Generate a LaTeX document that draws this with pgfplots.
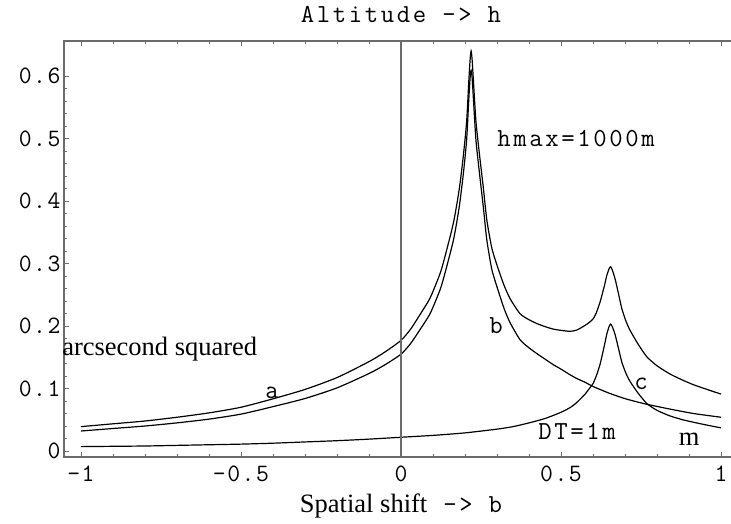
\documentclass[border=0pt]{standalone}
\usepackage{fontspec}
\setmainfont{Liberation Serif}
\newfontfamily\monoT{Latin Modern Mono}[LetterSpace=6]
\newfontfamily\monoL{Latin Modern Mono}[LetterSpace=10]
\usepackage{pgfplots}
\pgfplotsset{compat=1.18}
\definecolor{fr}{gray}{0.42}
\newcommand{\tk}{\monoT\fontsize{25}{25}\selectfont}
\newcommand{\lb}{\monoL\fontsize{26}{26}\selectfont}
\newcommand{\sr}{\rmfamily\fontsize{26.5}{26.5}\selectfont}
\begin{document}
\begin{tikzpicture}
\useasboundingbox (-64pt,-66pt) rectangle (667pt,457pt);
\begin{axis}[
  at={(0pt,0pt)}, anchor=south west,
  scale only axis, width=667pt, height=416pt,
  xmin=-1.053, xmax=1.031, ymin=-0.0096, ymax=0.656,
  axis line style={draw=none},
  xtick={-1,-0.5,0,0.5,1}, xticklabels={-1,-0.5,0,0.5,1},
  ytick={0,0.1,0.2,0.3,0.4,0.5,0.6}, yticklabels={0,0.1,0.2,0.3,0.4,0.5,0.6},
  minor x tick num=4, minor y tick num=4,
  tick align=inside, ytick pos=left, xtick pos=both,
  major tick length=5pt, minor tick length=3pt,
  every tick/.style={fr, line width=0.8pt},
  ticklabel style={font=\tk},
  xticklabel style={yshift=-5pt},
  clip=false,
]
% curve a
\addplot[black, line width=1.2pt, smooth, tension=0.4] coordinates {
(-1.0,0.039) (-0.9,0.0435) (-0.8,0.048) (-0.7,0.054) (-0.6,0.061) (-0.5,0.070)
(-0.4,0.0835) (-0.3,0.0985) (-0.2,0.1175) (-0.1,0.143) (-0.05,0.1585) (0,0.177)
(0.03,0.195) (0.059,0.218) (0.091,0.245) (0.122,0.284) (0.1375,0.3115) (0.164,0.3657)
(0.182,0.4193) (0.195,0.4738) (0.205,0.527) (0.212,0.594) (0.216,0.627) (0.219,0.640)
(0.222,0.627) (0.226,0.594) (0.234,0.528) (0.245,0.475) (0.257,0.422) (0.268,0.370)
(0.284,0.324) (0.304,0.291) (0.322,0.265) (0.341,0.2435) (0.372,0.2196) (0.40,0.210)
(0.424,0.204) (0.45,0.199) (0.476,0.195) (0.50,0.193) (0.528,0.1915) (0.549,0.1935)
(0.575,0.201) (0.59,0.2065) (0.601,0.212) (0.61,0.221) (0.622,0.2385) (0.635,0.2635)
(0.643,0.281) (0.650,0.2916) (0.655,0.2947) (0.660,0.2898) (0.669,0.275) (0.68,0.2504)
(0.690,0.2276) (0.703,0.2074) (0.716,0.1927) (0.74,0.1716) (0.768,0.1508) (0.80,0.1363)
(0.841,0.123) (0.88,0.1134) (0.914,0.106) (0.96,0.0978) (1.0,0.091)
};
% curve b
\addplot[black, line width=1.2pt, smooth, tension=0.4] coordinates {
(-1.0,0.032) (-0.9,0.036) (-0.8,0.040) (-0.7,0.045) (-0.6,0.051) (-0.5,0.059)
(-0.4,0.071) (-0.3,0.084) (-0.2,0.101) (-0.1,0.124) (-0.05,0.138) (0,0.155)
(0.03,0.172) (0.059,0.194) (0.091,0.220) (0.122,0.258) (0.1375,0.285) (0.164,0.338)
(0.182,0.391) (0.195,0.445) (0.205,0.498) (0.212,0.565) (0.216,0.598) (0.219,0.609)
(0.222,0.598) (0.226,0.565) (0.234,0.498) (0.245,0.445) (0.257,0.391) (0.268,0.338)
(0.284,0.290) (0.304,0.256) (0.322,0.228) (0.341,0.205) (0.372,0.178) (0.40,0.165)
(0.424,0.156) (0.45,0.147) (0.476,0.138) (0.50,0.131) (0.528,0.122) (0.549,0.116)
(0.575,0.110) (0.601,0.103) (0.653,0.092) (0.705,0.083) (0.766,0.075) (0.841,0.067)
(0.914,0.060) (1.0,0.054)
};
% curve c
\addplot[black, line width=1.2pt, smooth, tension=0.4] coordinates {
(-1.0,0.007) (-0.9,0.0075) (-0.8,0.008) (-0.7,0.009) (-0.6,0.010) (-0.5,0.011)
(-0.4,0.0125) (-0.3,0.0145) (-0.2,0.0165) (-0.1,0.019) (0,0.022) (0.1,0.025)
(0.2,0.029) (0.3,0.035) (0.35,0.039) (0.4,0.045) (0.45,0.052) (0.5,0.062)
(0.53,0.070) (0.55,0.078) (0.575,0.091) (0.59,0.101) (0.60,0.108) (0.61,0.120)
(0.622,0.139) (0.635,0.168) (0.643,0.187) (0.650,0.199) (0.655,0.203) (0.660,0.199)
(0.669,0.186) (0.68,0.163) (0.690,0.142) (0.703,0.124) (0.716,0.111) (0.74,0.093)
(0.768,0.076) (0.80,0.065) (0.841,0.056) (0.88,0.050) (0.914,0.046) (0.96,0.041)
(1.0,0.037)
};
% frame and zero line
\draw[fr, line width=1.2pt] (rel axis cs:1,1) -- (rel axis cs:0,1) -- (rel axis cs:0,0) -- (rel axis cs:1,0);
\draw[fr, line width=1.2pt] (axis cs:0,-0.0096) -- (axis cs:0,0.656);
% texts
\node[anchor=base, inner sep=0pt] at (axis cs:0,0.6848) {\lb Altitude -> h};
\node[anchor=base, inner sep=0pt] at (axis cs:0,-0.0976) {{\sr Spatial shift}{\lb{} -> b}};
\node[anchor=base west, inner sep=0pt] at (axis cs:-1.059,0.1536) {\sr arcsecond squared};
\node[anchor=base, inner sep=0pt] at (axis cs:-0.403,0.0848) {\lb a};
\node[anchor=base, inner sep=0pt] at (axis cs:0.297,0.1888) {\lb b};
\node[anchor=base, inner sep=0pt] at (axis cs:0.75,0.0992) {\lb c};
\node[anchor=base, inner sep=0pt] at (axis cs:0.90,0.0096) {\sr m};
\node[anchor=base, inner sep=0pt] at (axis cs:0.55,0.0192) {\lb DT=1m};
\node[anchor=base, inner sep=0pt] at (axis cs:0.547,0.488) {\lb hmax=1000m};
\end{axis}
\end{tikzpicture}
\end{document}
